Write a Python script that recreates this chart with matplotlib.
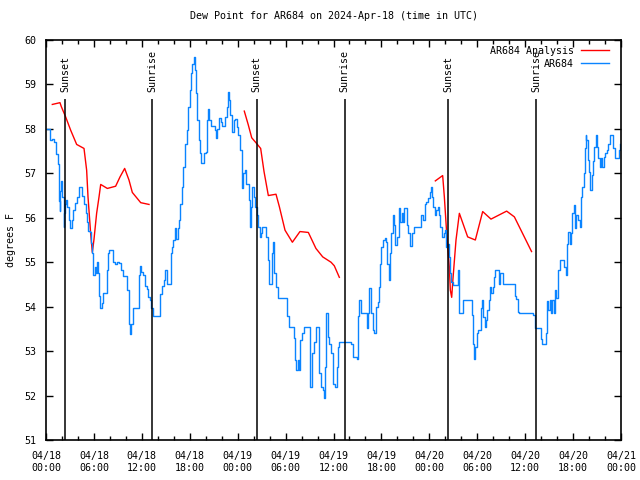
import matplotlib.pyplot as plt
from matplotlib.ticker import MultipleLocator

# observed dew point, (hours since 2024-04-18 00:00 UTC, degrees F)
obs_apr18 = [
    (0.1, 58.0), (0.47, 57.75), (0.7, 57.78), (1.03, 57.7), (1.28, 57.44), (1.49, 57.2),
    (1.57, 56.87), (1.62, 56.38), (1.7, 56.15), (1.8, 56.6), (1.92, 56.82), (2.05, 56.47),
    (2.21, 55.8), (2.28, 56.1), (2.34, 56.15), (2.42, 56.32), (2.5, 56.4), (2.67, 56.25),
    (2.84, 55.95), (3.0, 55.76), (3.25, 55.95), (3.43, 56.17), (3.68, 56.34), (3.9, 56.47),
    (4.1, 56.69), (4.35, 56.69), (4.5, 56.5), (4.7, 56.3), (4.95, 56.1), (5.1, 55.91),
    (5.24, 55.7), (5.5, 55.67), (5.6, 55.43), (5.76, 55.2), (5.84, 54.71), (6.05, 54.71),
    (6.17, 54.9), (6.26, 54.75), (6.35, 55.0), (6.5, 54.75), (6.68, 54.23), (6.76, 53.97),
    (7.0, 54.08), (7.18, 54.3), (7.43, 54.3), (7.6, 54.83), (7.76, 55.2), (7.93, 55.28),
    (8.26, 55.28), (8.43, 55.0), (8.68, 54.95), (8.93, 55.0), (9.18, 54.98), (9.35, 54.83),
    (9.6, 54.68), (9.93, 54.7), (10.1, 54.38), (10.35, 54.12), (10.43, 53.6), (10.52, 53.38),
    (10.64, 53.6), (10.85, 53.97), (11.14, 53.98), (11.52, 53.96), (11.69, 54.71),
    (11.77, 54.92), (11.93, 54.78), (12.1, 54.72), (12.4, 54.46), (12.6, 54.4), (12.8, 54.22),
    (13.0, 54.15), (13.2, 53.97), (13.4, 53.78), (14.16, 53.78), (14.33, 54.29),
    (14.58, 54.46), (14.75, 54.59), (14.92, 54.83), (15.09, 54.5), (15.42, 54.5),
    (15.59, 55.2), (15.75, 55.35), (15.93, 55.5), (16.13, 55.76), (16.34, 55.53),
    (16.55, 55.76), (16.68, 55.95), (16.78, 56.32), (16.99, 56.7), (17.2, 57.15),
    (17.41, 57.67), (17.62, 57.97), (17.83, 58.5), (18.03, 58.87), (18.16, 59.25),
    (18.33, 59.47), (18.54, 59.62), (18.66, 59.32), (18.79, 58.8), (18.95, 58.2),
    (19.12, 57.75), (19.29, 57.45), (19.41, 57.24), (19.62, 57.24), (19.79, 57.45),
    (20.04, 57.49), (20.2, 58.2), (20.33, 58.44), (20.45, 58.2), (20.62, 58.07),
    (20.96, 58.07), (21.13, 57.97), (21.29, 57.79), (21.46, 58.0), (21.71, 58.24),
    (21.88, 58.15), (22.05, 58.07), (22.3, 58.07), (22.47, 58.27), (22.64, 58.5),
    (22.8, 58.82), (22.97, 58.65), (23.06, 58.31), (23.27, 57.94), (23.48, 58.2),
    (23.69, 58.22), (23.9, 58.05),
]
obs_apr19 = [
    (24.1, 57.86), (24.31, 57.52), (24.48, 57.07), (24.56, 56.66), (24.73, 57.0),
    (24.9, 57.07), (25.07, 56.77), (25.37, 56.4), (25.54, 55.8), (25.66, 56.25),
    (25.83, 56.7), (26.0, 56.47), (26.21, 56.25), (26.42, 56.06), (26.59, 55.8),
    (26.76, 55.57), (26.92, 55.65), (27.09, 55.8), (27.42, 55.8), (27.59, 55.57),
    (27.76, 55.05), (27.88, 54.52), (28.09, 54.52), (28.26, 55.2), (28.43, 55.46),
    (28.59, 54.75), (28.84, 54.45), (29.09, 54.19), (29.97, 54.19), (30.18, 53.78),
    (30.39, 53.55), (30.81, 53.55), (31.02, 53.29), (31.18, 52.8), (31.35, 52.57),
    (31.52, 52.8), (31.68, 52.57), (31.85, 53.25), (32.1, 53.4), (32.35, 53.55),
    (32.89, 53.55), (33.02, 52.65), (33.1, 52.2), (33.27, 52.95), (33.52, 53.2),
    (33.86, 53.55), (34.14, 53.47), (34.23, 52.5), (34.39, 52.2), (34.64, 52.12),
    (34.81, 51.94), (34.97, 52.65), (35.1, 53.85), (35.27, 53.32), (35.39, 53.17),
    (35.69, 52.95), (35.9, 52.27), (36.23, 52.2), (36.4, 52.65), (36.57, 53.1),
    (36.73, 53.21), (38.2, 53.17), (38.41, 52.87), (38.91, 52.83), (39.08, 53.8),
    (39.25, 54.14), (39.42, 53.85), (40.0, 53.85), (40.17, 53.51), (40.33, 53.85),
    (40.5, 54.41), (40.71, 53.85), (40.92, 53.47), (41.09, 53.4), (41.26, 53.99),
    (41.51, 54.1), (41.67, 54.44), (41.84, 54.97), (42.01, 55.35), (42.26, 55.5),
    (42.42, 55.54), (42.59, 55.45), (42.76, 54.97), (42.93, 54.6), (43.1, 55.2),
    (43.26, 55.65), (43.43, 56.06), (43.6, 55.84), (43.76, 55.39), (43.93, 55.57),
    (44.18, 56.21), (44.35, 55.91), (44.52, 56.1), (44.68, 55.91), (44.85, 56.21),
    (45.19, 55.84), (45.35, 55.65), (45.6, 55.37), (45.85, 55.65), (46.02, 55.8),
    (46.77, 55.8), (46.94, 56.06), (47.19, 55.95), (47.44, 56.32), (47.61, 56.36),
    (47.86, 56.44),
]
obs_apr20 = [
    (48.03, 56.59), (48.24, 56.7), (48.37, 56.47), (48.45, 56.25), (48.66, 56.06),
    (48.87, 56.17), (49.03, 56.25), (49.2, 56.06), (49.37, 55.8), (49.62, 55.57),
    (49.79, 55.65), (49.96, 55.72), (50.13, 55.35), (50.3, 55.42), (50.46, 55.12),
    (50.55, 54.75), (50.71, 54.56), (50.96, 54.49), (51.38, 54.49), (51.55, 54.82),
    (51.68, 54.15), (51.76, 53.85), (52.18, 54.15), (53.35, 53.81), (53.43, 53.17),
    (53.56, 52.83), (53.68, 53.1), (53.93, 53.4), (54.1, 53.47), (54.43, 53.96),
    (54.6, 54.15), (54.77, 53.77), (54.94, 53.55), (55.1, 53.7), (55.27, 53.92),
    (55.44, 54.15), (55.61, 54.45), (55.78, 54.3), (55.94, 54.45), (56.11, 54.67),
    (56.28, 54.82), (56.7, 54.52), (56.86, 54.75), (57.2, 54.52), (58.71, 54.23),
    (58.87, 54.17), (59.12, 53.89), (59.29, 53.85), (60.97, 53.81), (61.22, 53.51),
    (61.97, 53.28), (62.14, 53.17), (62.64, 53.4), (62.72, 54.12), (62.89, 53.92),
    (63.06, 54.15), (63.22, 53.85), (63.39, 54.15), (63.56, 53.85), (63.72, 54.37),
    (63.89, 54.19), (64.06, 54.41), (64.14, 54.82), (64.31, 55.06), (64.9, 54.9),
    (65.06, 54.71), (65.23, 55.42), (65.4, 55.69), (65.57, 55.42), (65.74, 55.65),
    (65.9, 56.1), (66.07, 56.28), (66.24, 55.76), (66.41, 56.06), (66.66, 55.95),
    (66.83, 55.8), (66.99, 56.47), (67.16, 56.7), (67.33, 57.0), (67.5, 57.56),
    (67.58, 57.86), (67.66, 57.75), (67.83, 57.3), (68.0, 57.04), (68.17, 56.63),
    (68.33, 56.97), (68.5, 57.27), (68.67, 57.6), (68.83, 57.86), (69.0, 57.6),
    (69.17, 57.34), (69.34, 57.15), (69.51, 57.34), (69.67, 57.15), (69.84, 57.37),
    (70.01, 57.45), (70.26, 57.52), (70.43, 57.67), (70.59, 57.86), (71.01, 57.56),
    (71.26, 57.34), (71.77, 57.52), (71.93, 57.67),
]

# analysis runs, one list per segment
ana_run1 = [
    (0.79, 58.55), (1.75, 58.59), (1.92, 58.5), (2.46, 58.27), (3.09, 57.97), (3.84, 57.65),
    (4.76, 57.56), (5.09, 57.07), (5.26, 56.47), (5.59, 55.65), (5.8, 55.22), (6.0, 55.5),
    (6.34, 56.1), (6.64, 56.47), (6.85, 56.75), (7.68, 56.66), (8.72, 56.71), (9.27, 56.92),
    (9.85, 57.11), (10.39, 56.85), (10.81, 56.57), (11.86, 56.34), (12.9, 56.3),
]
ana_run2 = [
    (24.83, 58.4), (25.33, 58.09), (25.76, 57.8), (26.38, 57.67), (26.88, 57.56),
    (27.3, 57.04), (27.84, 56.5), (28.8, 56.53), (29.22, 56.25), (29.93, 55.72),
    (30.85, 55.45), (31.8, 55.69), (32.85, 55.67), (33.8, 55.31), (34.65, 55.12),
    (35.69, 55.0), (36.1, 54.92), (36.73, 54.66),
]
ana_run3 = [
    (48.75, 56.83), (49.67, 56.95), (49.88, 56.47), (50.17, 55.66), (50.5, 54.9),
    (50.63, 54.37), (50.8, 54.21), (50.93, 54.56), (51.34, 55.5), (51.76, 56.1),
    (52.8, 55.57), (53.76, 55.5), (54.68, 56.14), (55.72, 55.97), (57.68, 56.15),
    (58.65, 56.02), (60.8, 55.24),
]

sun_hours = [2.42, 13.31, 26.38, 37.4, 50.38, 61.4]
sun_labels = ["Sunset", "Sunrise", "Sunset", "Sunrise", "Sunset", "Sunrise"]

tick_hours = list(range(0, 73, 6))
tick_labels = [
    "04/18\n00:00", "04/18\n06:00", "04/18\n12:00", "04/18\n18:00",
    "04/19\n00:00", "04/19\n06:00", "04/19\n12:00", "04/19\n18:00",
    "04/20\n00:00", "04/20\n06:00", "04/20\n12:00", "04/20\n18:00",
    "04/21\n00:00",
]

plt.rcParams["font.family"] = "DejaVu Sans Mono"
plt.rcParams["font.size"] = 7.2

fig = plt.figure(figsize=(6.4, 4.8), dpi=100)
ax = fig.add_axes([46 / 640, 40 / 480, 575 / 640, 400 / 480])

for i, run in enumerate([ana_run1, ana_run2, ana_run3]):
    xs, ys = zip(*run)
    ax.plot(xs, ys, color="#ff0000", linewidth=1,
            label="AR684 Analysis" if i == 0 else None)

obs = obs_apr18 + obs_apr19 + obs_apr20
obs_x, obs_y = zip(*obs)
ax.plot(obs_x, obs_y, color="#0a84ff", linewidth=1.0, drawstyle="steps-post",
        label="AR684")

for h, lab in zip(sun_hours, sun_labels):
    ax.vlines(h, 51, 58.67, color="black", linewidth=1.1)
    ax.text(h, 58.83, lab, rotation=90, ha="center", va="bottom")

ax.set_xlim(0, 72)
ax.set_ylim(51, 60)
ax.set_xticks(tick_hours)
ax.set_xticklabels(tick_labels, linespacing=1.25)
ax.xaxis.set_minor_locator(MultipleLocator(2))
ax.set_yticks(range(51, 61))
ax.tick_params(which="both", direction="in", top=True, right=True, length=5, width=1)
ax.tick_params(which="minor", length=3)
ax.tick_params(axis="x", pad=8)
ax.tick_params(axis="y", pad=7)
for s in ax.spines.values():
    s.set_linewidth(1.2)

ax.set_ylabel("degrees F", labelpad=6)
ax.set_title("Dew Point for AR684 on 2024-Apr-18 (time in UTC)", fontsize=7.2, pad=15)

ax.legend(loc="upper right", bbox_to_anchor=((609 - 46) / 575, (440 - 46) / 400),
          frameon=False, markerfirst=False, handlelength=2.8, borderpad=0,
          borderaxespad=0, labelspacing=0.3, handletextpad=0.7)

fig.savefig("out.png", dpi=100)
plt.close(fig)
